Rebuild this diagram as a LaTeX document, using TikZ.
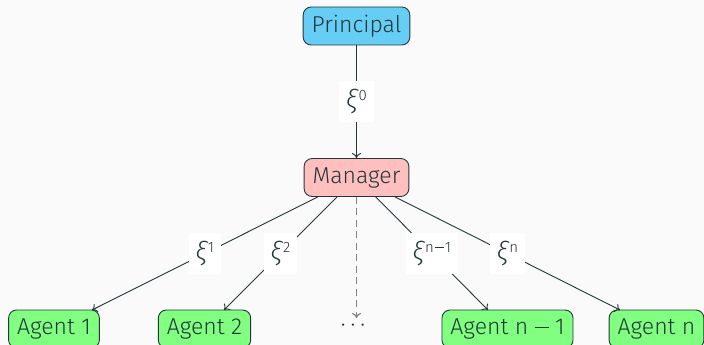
\documentclass[tikz,border=0pt]{standalone}
\usepackage{fontspec}
\setmainfont{Fira Sans Light}[ItalicFont={Fira Sans Light Italic}]
\usetikzlibrary{arrows.meta}
\definecolor{bgpage}{HTML}{FAFAFA}
\definecolor{ink}{HTML}{23373B}
\definecolor{principalfill}{HTML}{66CDF5}
\definecolor{managerfill}{HTML}{FFBFBF}
\definecolor{agentfill}{HTML}{80FF80}
\definecolor{dashgray}{HTML}{7E8587}
\newcommand{\xisym}[1]{{\itshape ξ}\hspace{1.5pt}\raisebox{8pt}{\fontsize{15}{16}\selectfont\upshape #1}}
\newcommand{\longminus}{\rule[6.5pt]{14pt}{1.2pt}}
\tikzset{
  box/.style={draw=ink, line width=0.9pt, rounded corners=8pt, minimum height=38pt,
    inner xsep=8.5pt, text=ink, font=\fontsize{23}{27}\selectfont},
  flow/.style={draw=ink, line width=0.9pt, -{To[length=5pt,width=9pt]}},
  tag/.style={fill=white, text=ink, inner xsep=7pt, minimum height=41pt,
    font=\fontsize{26}{30}\selectfont}
}
\begin{document}
\begin{tikzpicture}[x=1pt,y=-1pt]
  \fill[bgpage] (0,0) rectangle (704,345);
  \useasboundingbox (0,0) rectangle (704,345);

  % hierarchy nodes
  \node[box, fill=principalfill] (prin) at (356.5,26) {Principal};
  \node[box, fill=managerfill] (man) at (356.5,177.5) {Manager};
  \node[box, fill=agentfill] (a1) at (54,329) {Agent 1};
  \node[box, fill=agentfill] (a2) at (204.5,329) {Agent 2};
  \node[box, fill=agentfill] (an1) at (507.5,329) {Agent n \longminus\ 1};
  \node[box, fill=agentfill] (an) at (656.5,329) {Agent n};
  \node[text=ink, font=\fontsize{23}{27}\selectfont, inner sep=0pt] (dots) at (353,328) {·\hspace{5pt}·\hspace{5pt}·};

  % arrow end points above the agents
  \coordinate (e1) at (92,310);
  \coordinate (e2) at (224,310);
  \coordinate (e3) at (356.5,318);
  \coordinate (e4) at (488,310);
  \coordinate (e5) at (620,310);

  % contracts passed down the hierarchy
  \draw[flow] (prin) -- node[tag] {\xisym{0}} (man);
  \draw[flow] (man) -- node[tag] {\xisym{1}} (e1);
  \draw[flow] (man) -- node[tag] {\xisym{2}} (e2);
  \draw[flow, draw=dashgray, line width=1.2pt, dash pattern=on 7pt off 4.5pt] (man.south) -- (e3);
  \draw[flow] (man) -- node[tag] {\xisym{n\hspace{1pt}\rule[4pt]{9pt}{1pt}\hspace{1pt}1}} (e4);
  \draw[flow] (man) -- node[tag] {\xisym{n}} (e5);
\end{tikzpicture}
\end{document}
